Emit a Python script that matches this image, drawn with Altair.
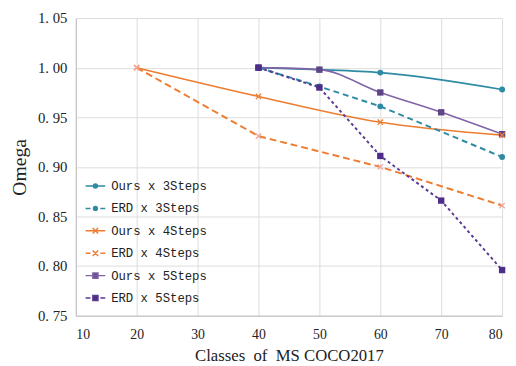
import altair as alt
import pandas as pd

# ---- data ----
series_names = ["Ours x 3Steps", "ERD x 3Steps", "Ours x 4Steps",
                "ERD x 4Steps", "Ours x 5Steps", "ERD x 5Steps"]

ours3_x = [40, 50, 60, 80]
ours3_y = [1.000, 0.998, 0.995, 0.978]
erd3_x = [40, 50, 60, 80]
erd3_y = [1.000, 0.981, 0.961, 0.910]
ours4_x = [20, 40, 60, 80]
ours4_y = [1.000, 0.971, 0.945, 0.932]
erd4_x = [20, 40, 60, 80]
erd4_y = [1.000, 0.931, 0.900, 0.861]
ours5_x = [40, 50, 60, 70, 80]
ours5_y = [1.000, 0.998, 0.975, 0.955, 0.933]
erd5_x = [40, 50, 60, 70, 80]
erd5_y = [1.000, 0.980, 0.911, 0.866, 0.796]

x_ticks = [10, 20, 30, 40, 50, 60, 70, 80]
y_ticks = [0.75, 0.80, 0.85, 0.90, 0.95, 1.00, 1.05]

# ---- styles ----
line_colors = ["#2E8BA3", "#2E8BA3", "#ED7D31", "#ED7D31", "#8064A8", "#5B3A92"]
marker_colors = ["#2E8BA3", "#2E8BA3", "#ED7D31", "#F2A7A0", "#5E4585", "#4E2D88"]
dash_keys = ["solid", "longA", "solid", "longB", "solid", "short"]
dash_domain = ["solid", "longA", "longB", "short"]
dash_range = [[1, 0], [6, 4], [7, 4], [3, 3]]

circ = "M-0.2,0A0.2,0.2 0 1,0 0.2,0A0.2,0.2 0 1,0 -0.2,0Z"
sq = "M-0.26,-0.26H0.26V0.26H-0.26Z"
xx = "M-0.28,-0.28L0.28,0.28M-0.28,0.28L0.28,-0.28"
solid = "M-1,0L1,0"
dashed = "M-1,0L-0.5,0M0.5,0L1,0"
legend_paths = [solid + circ, dashed + circ, solid + xx, dashed + xx,
                solid + sq, dashed + sq]
x_marker = "M-1,-1L1,1M-1,1L1,-1"

xs = [ours3_x, erd3_x, ours4_x, erd4_x, ours5_x, erd5_x]
ys = [ours3_y, erd3_y, ours4_y, erd4_y, ours5_y, erd5_y]
marker_kind = ["circle", "circle", "x", "x", "square", "square"]

rows = []
for i, name in enumerate(series_names):
    for xv, yv in zip(xs[i], ys[i]):
        rows.append({"series": name, "x": xv, "y": yv,
                     "kind": "ours" if name.startswith("Ours") else "erd",
                     "lcolor": line_colors[i], "mcolor": marker_colors[i],
                     "dkey": dash_keys[i], "mk": marker_kind[i]})
df = pd.DataFrame(rows)

serif = "Liberation Serif"

xenc = alt.X("x:Q", scale=alt.Scale(domain=[10, 80], nice=False),
             axis=alt.Axis(values=x_ticks, title="Classes\u00a0 of\u00a0 MS COCO2017",
                           labelFont=serif, labelFontSize=14, labelColor="#222",
                           titleFont=serif, titleFontSize=17, titleFontWeight="normal",
                           titleColor="#222", labelPadding=12, titlePadding=7,
                           grid=True, ticks=False, domainColor="#bdbdbd"))
yenc = alt.Y("y:Q", scale=alt.Scale(domain=[0.75, 1.05], nice=False, zero=False),
             axis=alt.Axis(values=y_ticks, title="Omega",
                           labelExpr="replace(format(datum.value, '.2f'), '.', '.\u00a0')",
                           labelFont=serif, labelFontSize=15, labelColor="#222",
                           titleFont=serif, titleFontSize=20, titleFontWeight="normal",
                           titleColor="#222", labelPadding=9, titlePadding=8,
                           grid=True, ticks=False, domainColor="#bdbdbd"))

base = alt.Chart(df)

ours_lines = base.transform_filter("datum.kind == 'ours'").mark_line(
    interpolate="monotone", strokeWidth=1.6).encode(
    x=xenc, y=yenc,
    color=alt.Color("lcolor:N", scale=None),
    detail="series:N")

erd_lines = base.transform_filter("datum.kind == 'erd'").mark_line(
    strokeWidth=2).encode(
    x=xenc, y=yenc,
    color=alt.Color("lcolor:N", scale=None),
    detail="series:N",
    strokeDash=alt.StrokeDash("dkey:N",
                              scale=alt.Scale(domain=dash_domain, range=dash_range),
                              legend=None))

pts_circle = base.transform_filter("datum.mk == 'circle'").mark_point(
    filled=True, size=36, opacity=1, shape="circle").encode(
    x=xenc, y=yenc, color=alt.Color("mcolor:N", scale=None))
pts_square = base.transform_filter("datum.mk == 'square'").mark_point(
    filled=True, size=42, opacity=1, shape="square").encode(
    x=xenc, y=yenc, color=alt.Color("mcolor:N", scale=None))
pts_x = base.transform_filter("datum.mk == 'x'").mark_point(
    filled=False, size=30, opacity=1, shape=x_marker, strokeWidth=1.3).encode(
    x=xenc, y=yenc, color=alt.Color("mcolor:N", scale=None))

leg = dict(title=None, orient="none", legendX=9, legendY=160)
legend_layer = base.mark_point(filled=True, size=0, opacity=1).encode(
    x=xenc, y=yenc,
    fill=alt.Fill("series:N", scale=alt.Scale(domain=series_names, range=marker_colors),
                  legend=alt.Legend(**leg)),
    stroke=alt.Stroke("series:N", scale=alt.Scale(domain=series_names, range=line_colors),
                      legend=alt.Legend(**leg)),
    shape=alt.Shape("series:N", scale=alt.Scale(domain=series_names, range=legend_paths),
                    legend=alt.Legend(**leg)))

chart = alt.layer(ours_lines, erd_lines, pts_circle, pts_square, pts_x,
                  legend_layer).properties(
    width=434, height=303,
    padding={"left": 2, "top": 0, "right": 0, "bottom": 0}
).configure_view(stroke=None).configure_axis(
    gridColor="#dcdcdc", gridWidth=1
).configure_legend(
    symbolSize=400, symbolStrokeWidth=1.5, labelFont="Liberation Mono",
    labelFontSize=12.5, labelColor="#222", labelOffset=5, rowPadding=4.8,
    padding=0, symbolOpacity=1
)

chart.save("out.html", embed_options={"renderer": "svg", "actions": False})
